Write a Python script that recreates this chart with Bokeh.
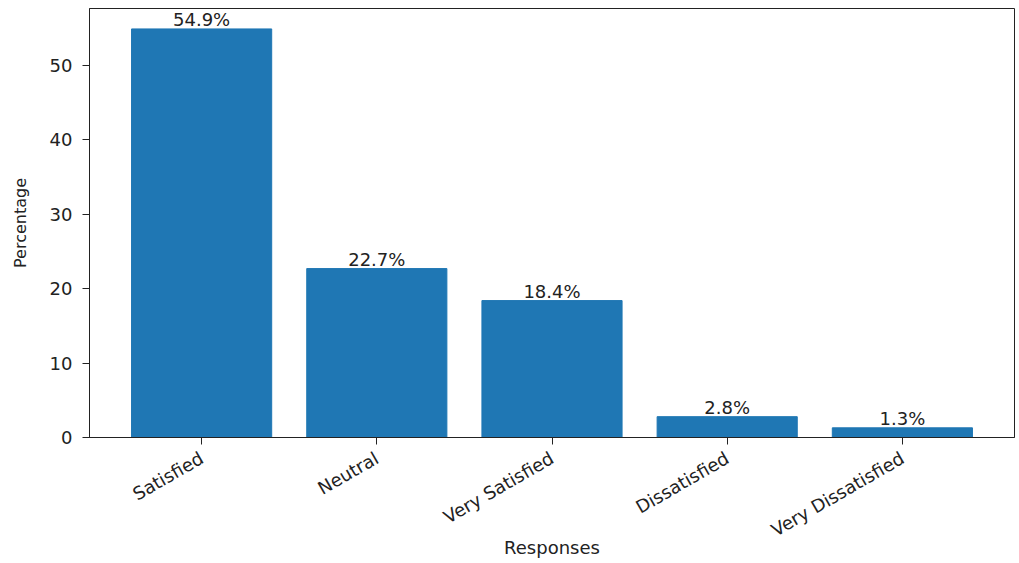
import math
from bokeh.plotting import figure
from bokeh.models import Range1d, FixedTicker, ColumnDataSource
from bokeh.core.properties import value
from bokeh.embed import file_html
from bokeh.resources import INLINE

categories = ["Satisfied", "Neutral", "Very Satisfied", "Dissatisfied", "Very Dissatisfied"]
percentages = [54.9, 22.7, 18.4, 2.8, 1.3]
y_ticks = [0, 10, 20, 30, 40, 50]

xs = list(range(len(categories)))
labels = [f"{v:.1f}%" for v in percentages]
src = ColumnDataSource(dict(x=xs, top=percentages, label=labels))

FONT = "DejaVu Sans"
FS = "18px"

p = figure(width=1015, height=560, output_backend="svg", toolbar_location=None,
           x_range=Range1d(-0.64, len(categories) - 1 + 0.64),
           y_range=Range1d(0, max(percentages) * 1.05),
           min_border_left=89, min_border_right=1, min_border_top=8, min_border_bottom=100)

p.vbar(x="x", top="top", width=0.8, bottom=0, source=src, color="#1f77b4")
p.text(x="x", y="top", text="label", source=src, text_align="center", text_baseline="bottom",
       text_font=value(FONT), text_font_size=FS, text_color="#222222", y_offset=1)

p.grid.visible = False
p.outline_line_color = "#222222"
p.outline_line_width = 1

p.xaxis.ticker = FixedTicker(ticks=xs)
p.xaxis.major_label_overrides = {i: c for i, c in enumerate(categories)}
p.xaxis.major_label_orientation = math.pi / 6
p.yaxis.ticker = FixedTicker(ticks=y_ticks)

for ax in (p.xaxis, p.yaxis):
    ax.axis_line_color = "#222222"
    ax.major_tick_line_color = "#222222"
    ax.major_tick_out = 7
    ax.major_tick_in = 0
    ax.minor_tick_line_color = None
    ax.major_label_text_font = FONT
    ax.major_label_text_font_size = FS
    ax.major_label_text_color = "#222222"
    ax.axis_label_text_font = FONT
    ax.axis_label_text_font_style = "normal"
    ax.axis_label_text_color = "#222222"

p.xaxis.axis_label = "Responses"
p.yaxis.axis_label = "Percentage"
p.xaxis.axis_label_text_font_size = FS
p.yaxis.axis_label_text_font_size = "16px"
p.yaxis.major_label_standoff = 10
p.xaxis.major_label_standoff = 12
p.xaxis.axis_label_standoff = -16
p.yaxis.axis_label_standoff = 17

open("out.html", "w").write(file_html(p, INLINE))
